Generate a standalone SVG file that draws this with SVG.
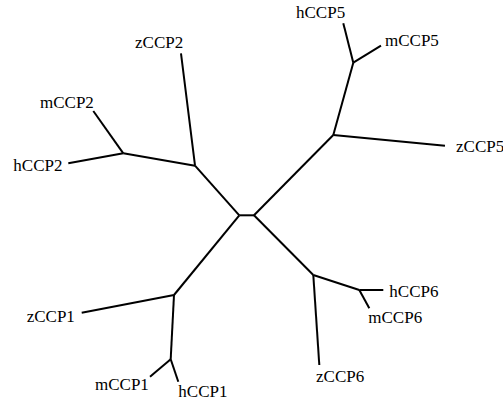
<svg xmlns="http://www.w3.org/2000/svg" width="503" height="402" viewBox="0 0 503 402">
  <style>
    .edge { stroke: #000; stroke-width: 2; fill: none; stroke-linecap: butt; stroke-linejoin: miter; }
    .leaf text { font-family: "Liberation Serif", "Times New Roman", serif; font-size: 17px; fill: #000; }
  </style>
  <rect width="503" height="402" fill="#fff"/>

  <!-- branches of the unrooted tree -->
  <g id="connectors">
    <!-- central branch -->
    <path class="edge" d="M239.3,215.3 L254,215.3"/>
    <!-- CCP2 clade -->
    <path class="edge" d="M239.3,215.3 L195,165.7"/>
    <path class="edge" d="M195,165.7 L181,53.3"/>
    <path class="edge" d="M195,165.7 L123.3,153.3"/>
    <path class="edge" d="M123.3,153.3 L93.3,111"/>
    <path class="edge" d="M123.3,153.3 L68.3,163.3"/>
    <!-- CCP1 clade -->
    <path class="edge" d="M239.3,215.3 L174,295"/>
    <path class="edge" d="M174,295 L81.7,312.7"/>
    <path class="edge" d="M174,295 L170.7,359.3"/>
    <path class="edge" d="M170.7,359.3 L150,376.7"/>
    <path class="edge" d="M170.7,359.3 L178.3,381.7"/>
    <!-- CCP5 clade -->
    <path class="edge" d="M254,215.3 L333.3,135"/>
    <path class="edge" d="M333.3,135 L445,145.7"/>
    <path class="edge" d="M333.3,135 L353.3,62.7"/>
    <path class="edge" d="M353.3,62.7 L343.3,23.3"/>
    <path class="edge" d="M353.3,62.7 L381,45.7"/>
    <!-- CCP6 clade -->
    <path class="edge" d="M254,215.3 L313.3,275"/>
    <path class="edge" d="M313.3,275 L319.3,365"/>
    <path class="edge" d="M313.3,275 L359.3,290"/>
    <path class="edge" d="M359.3,290 L383.3,290"/>
    <path class="edge" d="M359.3,290 L369.3,308.3"/>
  </g>

  <!-- leaf labels -->
  <g id="zCCP2" class="leaf"><text x="135" y="48.3">zCCP2</text></g>
  <g id="mCCP2" class="leaf"><text x="40" y="108.3">mCCP2</text></g>
  <g id="hCCP2" class="leaf"><text x="13.3" y="170.7">hCCP2</text></g>
  <g id="zCCP1" class="leaf"><text x="26.7" y="321.7">zCCP1</text></g>
  <g id="mCCP1" class="leaf"><text x="95" y="390">mCCP1</text></g>
  <g id="hCCP1" class="leaf"><text x="178.3" y="396.7">hCCP1</text></g>
  <g id="hCCP5" class="leaf"><text x="296" y="18.3">hCCP5</text></g>
  <g id="mCCP5" class="leaf"><text x="385" y="45.7">mCCP5</text></g>
  <g id="zCCP5" class="leaf"><text x="456" y="152.3">zCCP5</text></g>
  <g id="hCCP6" class="leaf"><text x="389.3" y="296.7">hCCP6</text></g>
  <g id="mCCP6" class="leaf"><text x="368.3" y="323.3">mCCP6</text></g>
  <g id="zCCP6" class="leaf"><text x="316" y="381.7">zCCP6</text></g>
</svg>
